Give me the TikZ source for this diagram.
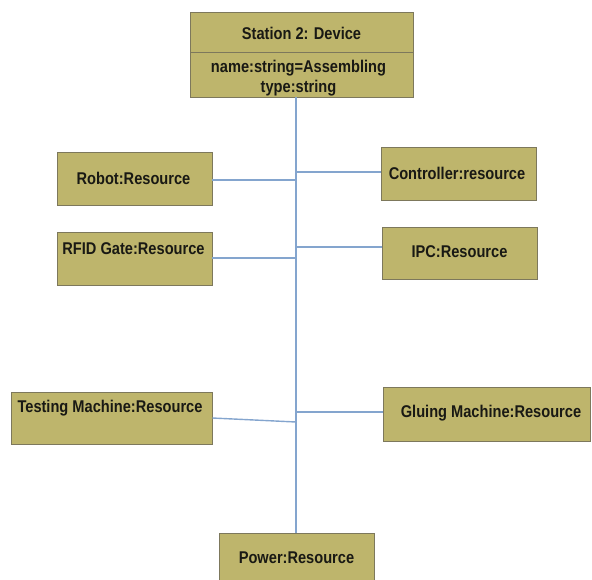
\documentclass[tikz,border=0pt]{standalone}
\usepackage{fontspec}
\setmainfont{Liberation Sans}[FakeStretch=0.86]
\definecolor{boxfill}{RGB}{190,181,108}
\definecolor{boxline}{RGB}{125,120,92}
\definecolor{wire}{RGB}{132,165,206}
\definecolor{ink}{RGB}{25,25,20}
\begin{document}
\begin{tikzpicture}[x=1pt,y=-1pt,
  box/.style={draw=boxline,line width=0.9pt,fill=boxfill,inner sep=0pt},
  lbl/.style={font=\fontsize{17}{20}\selectfont\bfseries,text=ink,inner sep=0pt,align=center},
  link/.style={draw=wire,line width=1.4pt}]
\useasboundingbox (0,0) rectangle (592,579);

% device header and attribute compartment
\node[box,minimum width=223,minimum height=40] (station) at (301.5,32) {};
\node[box,minimum width=223,minimum height=45] (attrs) at (301.5,74.5) {};
\node[lbl] (stationtxt) at (301.5,33) {Station 2: Device};
\node[lbl] (attr1) at (298.5,68) {name:string=Assembling};
\node[lbl] (attr2) at (298.5,88) {type:string};

% resource boxes
\node[box,minimum width=155,minimum height=53] (robot) at (134.5,178.5) {};
\node[lbl] (robottxt) at (133.5,178) {Robot:Resource};
\node[box,minimum width=155,minimum height=53] (rfid) at (134.5,258.5) {};
\node[lbl] (rfidtxt) at (133.5,249) {RFID Gate:Resource};
\node[box,minimum width=155,minimum height=53] (ctrl) at (458.5,173.5) {};
\node[lbl] (ctrltxt) at (457,173) {Controller:resource};
\node[box,minimum width=155,minimum height=52] (ipc) at (459.5,253) {};
\node[lbl] (ipctxt) at (459.5,252) {IPC:Resource};
\node[box,minimum width=201,minimum height=52] (testing) at (111.5,418) {};
\node[lbl] (testingtxt) at (110,408) {Testing Machine:Resource};
\node[box,minimum width=207,minimum height=54] (gluing) at (487,414) {};
\node[lbl] (gluingtxt) at (491,413) {Gluing Machine:Resource};
\node[box,minimum width=155,minimum height=57] (power) at (296.5,561.5) {};
\node[lbl] (powertxt) at (296.5,558) {Power:Resource};

% trunk and branch points
\coordinate (trunk) at (296,0);
\coordinate (jrobot) at (296,180);
\coordinate (jctrl) at (296,172);
\coordinate (jrfid) at (296,258);
\coordinate (jipc) at (296,247);
\coordinate (jtest) at (296,422);
\coordinate (jglue) at (296,412);

\draw[link] (attrs.south -| trunk) -- (power.north -| trunk);
\draw[link] (robot.east |- jrobot) -- (jrobot);
\draw[link] (jctrl) -- (ctrl.west |- jctrl);
\draw[link] (rfid.east |- jrfid) -- (jrfid);
\draw[link] (jipc) -- (ipc.west |- jipc);
\draw[link] (testing.east) -- (jtest);
\draw[link] (jglue) -- (gluing.west |- jglue);
\end{tikzpicture}
\end{document}
